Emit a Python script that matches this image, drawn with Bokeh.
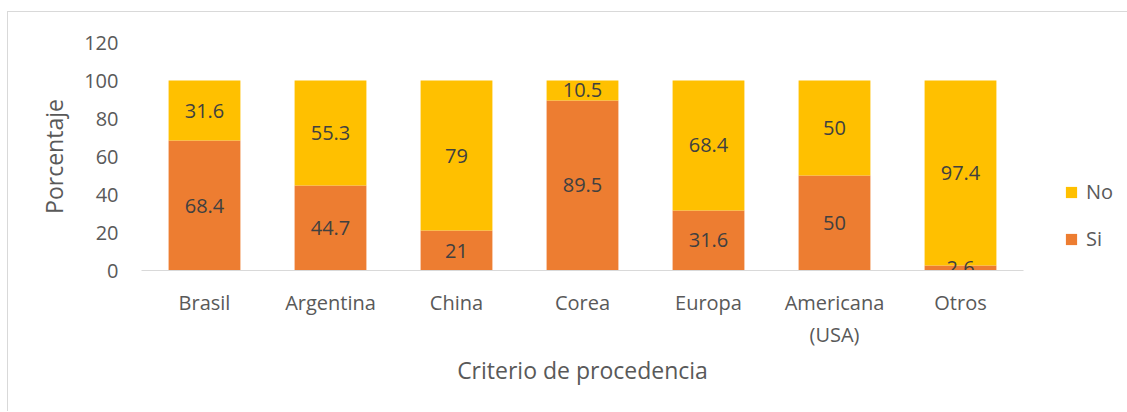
from bokeh.plotting import figure
from bokeh.models import ColumnDataSource, Legend, LegendItem, FixedTicker, Range1d
from bokeh.core.properties import value
from bokeh.embed import file_html
from bokeh.resources import INLINE

categories = ["Brasil", "Argentina", "China", "Corea", "Europa", "Americana\n(USA)", "Otros"]
si = [68.4, 44.7, 21, 89.5, 31.6, 50, 2.6]
no = [31.6, 55.3, 79, 10.5, 68.4, 50, 97.4]
y_ticks = [0, 20, 40, 60, 80, 100, 120]

FONT = "Open Sans"
src = ColumnDataSource(dict(cat=categories, si=si, no=no))

p = figure(x_range=categories, y_range=Range1d(0, 120),
           frame_width=882, frame_height=228,
           output_backend="svg", toolbar_location=None,
           min_border_left=133, min_border_right=90, min_border_top=30, min_border_bottom=141)
p.styles = {"border-top": "1px solid #d9d9d9", "border-left": "1px solid #d9d9d9",
            "margin-left": "7px", "margin-top": "11px"}

rs = p.vbar_stack(["si", "no"], x="cat", width=0.57, source=src,
                  color=["#ED7D31", "#FFC000"], line_color=None)

si_y = [v / 2 for v in si]
no_y = [s + n / 2 for s, n in zip(si, no)]
fmt = lambda v: ("%g" % v)
lab = ColumnDataSource(dict(x=categories + categories, y=si_y + no_y,
                            t=[fmt(v) for v in si] + [fmt(v) for v in no]))
p.text(x="x", y="y", text="t", source=lab, text_align="center", text_baseline="middle",
       text_font=value(FONT), text_font_size="20px", text_color="#404040")

p.grid.visible = False
p.outline_line_color = None

p.yaxis.ticker = FixedTicker(ticks=y_ticks)
p.yaxis.axis_line_color = None
p.yaxis.major_tick_line_color = None
p.yaxis.minor_tick_line_color = None
p.yaxis.major_label_standoff = 17
p.yaxis.axis_label = "Porcentaje"
p.yaxis.axis_label_standoff = 11

p.xaxis.axis_line_color = "#d9d9d9"
p.xaxis.axis_line_width = 1
p.xaxis.major_tick_line_color = None
p.xaxis.minor_tick_line_color = None
p.xaxis.major_label_standoff = 12
p.xaxis.axis_label = "Criterio de procedencia"
p.xaxis.axis_label_standoff = 3

for ax in (p.xaxis, p.yaxis):
    ax.major_label_text_font = FONT
    ax.major_label_text_font_size = "20px"
    ax.major_label_text_color = "#595959"
    ax.axis_label_text_font = FONT
    ax.axis_label_text_font_size = "23px"
    ax.axis_label_text_color = "#595959"
    ax.axis_label_text_font_style = "normal"

legend = Legend(items=[LegendItem(label="No", renderers=[rs[1]]),
                       LegendItem(label="Si", renderers=[rs[0]])],
                location="bottom_left", orientation="vertical",
                label_text_font=FONT, label_text_font_size="20px", label_text_color="#595959",
                glyph_width=14, glyph_height=14, spacing=20, padding=0, margin=18,
                label_height=20, border_line_color=None, background_fill_alpha=0,
                label_standoff=8)
legend.styles = {"margin-left": "23px"}
p.add_layout(legend, "right")

open("out.html", "w").write(file_html(p, INLINE))
